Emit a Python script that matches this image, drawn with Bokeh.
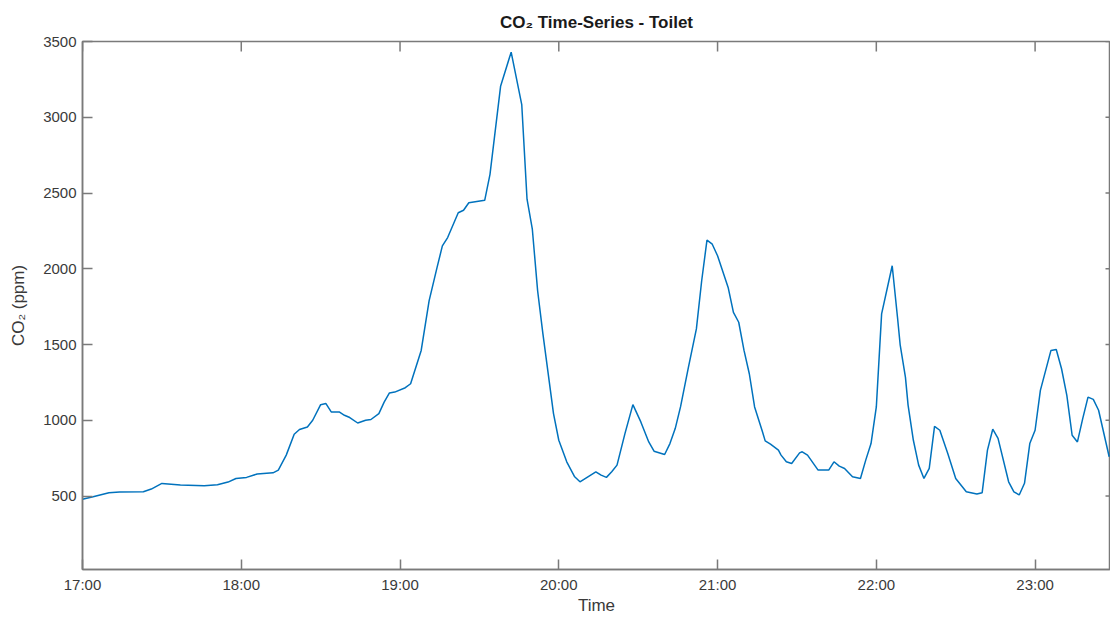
from bokeh.plotting import figure
from bokeh.models import FixedTicker, Range1d
from bokeh.embed import file_html
from bokeh.resources import INLINE

# minutes after 17:00
minutes = [0, 4, 10, 14, 23, 26, 30, 37, 46, 51, 55, 58, 62, 66, 72, 74, 77, 80, 82, 85,
           87, 90, 92, 94, 97, 99, 101, 104, 107, 109, 112, 114, 116, 118, 122, 124, 128, 131, 134, 136,
           138, 142, 144, 146, 152, 154, 158, 162, 166, 168, 170, 172, 174, 178, 180, 183, 186, 188, 191, 194,
           196, 198, 200, 202, 205, 208, 211, 214, 216, 220, 222, 224, 226, 229, 232, 234, 236, 238, 240, 244,
           246, 248, 250, 252, 254, 257, 258, 260, 263, 264, 266, 268, 271, 272, 274, 278, 282, 284, 286, 288,
           291, 294, 296, 298, 300, 302, 306, 308, 309, 311, 312, 314, 316, 318, 320, 322, 324, 327, 330, 334,
           338, 340, 342, 344, 346, 350, 352, 354, 356, 358, 360, 362, 366, 368, 370, 372, 374, 376, 378, 380,
           382, 384, 388]
co2 = [478, 495, 522, 526, 528, 546, 583, 572, 568, 574, 592, 616, 623, 645, 653, 671, 770, 908, 939, 956,
       1000, 1103, 1110, 1055, 1055, 1033, 1018, 982, 1000, 1005, 1044, 1120, 1180, 1186, 1215, 1241, 1461, 1790, 2009, 2151,
       2206, 2370, 2386, 2436, 2452, 2623, 3204, 3430, 3084, 2459, 2261, 1855, 1570, 1044, 868, 726, 627, 594, 627, 660,
       638, 623, 660, 704, 912, 1103, 989, 857, 796, 774, 846, 945, 1088, 1351, 1603, 1921, 2189, 2162, 2086, 1877,
       1712, 1647, 1461, 1307, 1088, 923, 864, 842, 803, 770, 726, 715, 785, 792, 770, 671, 671, 726, 697, 682,
       627, 616, 737, 846, 1088, 1702, 2020, 1680, 1500, 1285, 1100, 868, 704, 616, 682, 960, 934, 781, 616, 528,
       513, 522, 803, 941, 880, 594, 528, 507, 584, 846, 934, 1197, 1461, 1467, 1340, 1164, 901, 857, 1011, 1153,
       1138, 1066, 759]

x_tick_minutes = [0, 60, 120, 180, 240, 300, 360]
x_tick_labels = ["17:00", "18:00", "19:00", "20:00", "21:00", "22:00", "23:00"]
y_ticks = [500, 1000, 1500, 2000, 2500, 3000, 3500]

X_START, X_END = 0, 388.5
Y_START, Y_END = 15, 3500

AX = "#7a7a7a"
LBL = "#3a3a3a"
FONT = "Liberation Sans"

W, H = 1110, 617
BL, BR, BT, BB = 82, 0, 40, 47
FW, FH = W - BL - BR, H - BT - BB

p = figure(width=W, height=H, output_backend="svg", toolbar_location=None,
           x_range=Range1d(X_START, X_END), y_range=Range1d(Y_START, Y_END),
           min_border_left=BL, min_border_right=BR, min_border_top=BT, min_border_bottom=BB)

p.xgrid.visible = False
p.ygrid.visible = False
p.outline_line_color = AX
p.outline_line_width = 1.5
p.background_fill_color = "white"
p.border_fill_color = "white"

p.line(minutes, co2, line_color="#0072BD", line_width=1.5)

# inward ticks on the top and right edges of the box
ty = (Y_END - Y_START) * 10 / FH
tx = (X_END - X_START) * 5 / FW
p.segment(x0=x_tick_minutes, y0=[Y_END] * len(x_tick_minutes),
          x1=x_tick_minutes, y1=[Y_END - ty] * len(x_tick_minutes),
          line_color=AX, line_width=1.5)
p.segment(x0=[X_END] * len(y_ticks), y0=y_ticks,
          x1=[X_END - tx] * len(y_ticks), y1=y_ticks,
          line_color=AX, line_width=1.5)

overrides = {m: l for m, l in zip(x_tick_minutes, x_tick_labels)}

for ax in p.xaxis:
    ax.ticker = FixedTicker(ticks=x_tick_minutes)
    ax.major_label_overrides = overrides
    ax.axis_label = "Time"
    ax.axis_label_standoff = 0
for ax in p.yaxis:
    ax.ticker = FixedTicker(ticks=y_ticks)
    ax.axis_label = "CO\u2082 (ppm)"
    ax.axis_label_standoff = 12

for ax in list(p.xaxis) + list(p.yaxis):
    ax.minor_tick_line_color = None
    ax.major_tick_in = 10
    ax.major_tick_out = 0
    ax.major_tick_line_color = AX
    ax.major_tick_line_width = 1.5
    ax.axis_line_color = AX
    ax.axis_line_width = 1.5
    ax.major_label_text_font = FONT
    ax.major_label_text_font_size = "15px"
    ax.major_label_text_color = LBL
    ax.major_label_standoff = 6
    ax.axis_label_text_font = FONT
    ax.axis_label_text_font_size = "17px"
    ax.axis_label_text_font_style = "normal"
    ax.axis_label_text_color = LBL

p.title.text = "CO\u2082 Time-Series - Toilet"
p.title.align = "center"
p.title.text_font = FONT
p.title.text_font_size = "17px"
p.title.text_font_style = "bold"
p.title.text_color = "#1a1a1a"
p.title.standoff = 20

open("out.html", "w").write(file_html(p, INLINE))
